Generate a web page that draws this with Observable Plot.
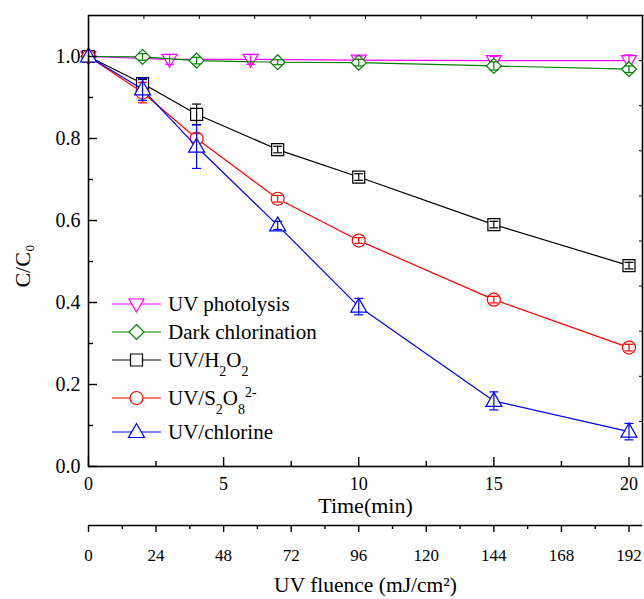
<!DOCTYPE html>
<html><head><meta charset="utf-8">
<script src="https://cdn.jsdelivr.net/npm/d3@7"></script>
<script src="https://cdn.jsdelivr.net/npm/@observablehq/plot@0.6"></script>
<style>
body{margin:0;background:#fff;}
#wrap{position:relative;width:644px;height:599px;font-family:"Liberation Serif","Times New Roman",serif;color:#000;}
#wrap svg{display:block}
.leg{position:absolute;left:112px;height:24px;line-height:24px;font-size:21px;white-space:nowrap;font-family:"Liberation Serif","Times New Roman",serif;}
.leg svg.sym{position:absolute;left:0;top:0;}
.leg span.lab{position:absolute;left:56px;top:0;}
.leg sub{font-size:14px;line-height:0;vertical-align:-9px;}
.leg sup{font-size:14px;line-height:0;vertical-align:8px;}
</style></head><body><div id="wrap"></div>
<script>
// ---- data ----
const photolysisTime = [0, 3, 6, 10, 15, 20];
const photolysisC   = [1.0, 0.993, 0.993, 0.991, 0.99, 0.99];
const photolysisErr = [0, 0.012, 0.012, 0.01, 0.01, 0.014];

const time = [0, 2, 4, 7, 10, 15, 20];
const darkC       = [1.0, 0.999, 0.99, 0.986, 0.985, 0.977, 0.969];
const darkErr     = [0, 0.008, 0.008, 0.006, 0.008, 0.01, 0.008];
const h2o2C       = [1.0, 0.934, 0.859, 0.773, 0.706, 0.59, 0.49];
const h2o2Err     = [0, 0.01, 0.025, 0.008, 0.008, 0.008, 0.008];
const persulfateC = [1.0, 0.912, 0.8, 0.653, 0.551, 0.407, 0.29];
const persulfateErr = [0, 0.025, 0.012, 0.008, 0.007, 0.008, 0.008];
const chlorineC   = [1.0, 0.92, 0.78, 0.588, 0.39, 0.16, 0.085];
const chlorineErr = [0, 0.027, 0.053, 0.01, 0.02, 0.022, 0.02];

const seriesNames = ["UV photolysis", "Dark chlorination", "UV/H<sub>2</sub>O<sub>2</sub>",
  "UV/S<sub>2</sub>O<sub>8</sub><sup>2-</sup>", "UV/chlorine"];
const seriesColors = ["#ff00ff", "#008000", "#000000", "#ff0000", "#0000ff"];

const xMajor = [0, 5, 10, 15, 20];
const xMinor = [2.5, 7.5, 12.5, 17.5];
const yMajor = [0, 0.2, 0.4, 0.6, 0.8, 1.0];
const yMinor = [0.1, 0.3, 0.5, 0.7, 0.9];
const topTicks = [2.05, 4.1, 6.15, 8.2, 10.25, 12.3, 14.35, 16.4, 18.45];
const rightTicks = [0.11, 0.22, 0.33, 0.44, 0.55, 0.66, 0.77, 0.88, 0.99];
const fluenceMajor = [0, 24, 48, 72, 96, 120, 144, 168, 192];
const fluenceMinor = [12, 36, 60, 84, 108, 132, 156, 180];
const fluencePerMin = 9.6; // 192 mJ/cm2 at 20 min

// ---- symbols ----
function sym(drawFn){ return {draw(ctx, size){ const k = Math.sqrt(size/Math.PI)/7; drawFn(ctx,k); }}; }
const triDown = sym((c,k)=>{c.moveTo(-7.5*k,-5*k);c.lineTo(7.5*k,-5*k);c.lineTo(0,8*k);c.closePath();});
const diamond = sym((c,k)=>{c.moveTo(0,-7.5*k);c.lineTo(7.5*k,0);c.lineTo(0,7.5*k);c.lineTo(-7.5*k,0);c.closePath();});
const square  = sym((c,k)=>{c.moveTo(-6*k,-6*k);c.lineTo(6*k,-6*k);c.lineTo(6*k,6*k);c.lineTo(-6*k,6*k);c.closePath();});
const circle  = sym((c,k)=>{c.moveTo(6.5*k,0);c.arc(0,0,6.5*k,0,2*Math.PI);c.closePath();});
const triUp   = sym((c,k)=>{c.moveTo(0,-8.5*k);c.lineTo(8*k,5.5*k);c.lineTo(-8*k,5.5*k);c.closePath();});
const cap     = sym((c,k)=>{c.moveTo(-4.5*k,0);c.lineTo(4.5*k,0);});
const seriesSymbols = [triDown, diamond, square, circle, triUp];

const seriesT = [photolysisTime, time, time, time, time];
const seriesC = [photolysisC, darkC, h2o2C, persulfateC, chlorineC];
const seriesE = [photolysisErr, darkErr, h2o2Err, persulfateErr, chlorineErr];

const font = '"Liberation Serif","Times New Roman",serif';
const marks = [];
seriesC.forEach((vals, s) => {
  const rows = seriesT[s].map((t, i) => ({t, c: vals[i], lo: vals[i] - seriesE[s][i], hi: vals[i] + seriesE[s][i], e: seriesE[s][i]}));
  const col = seriesColors[s];
  marks.push(Plot.line(rows, {x: "t", y: "c", stroke: col, strokeWidth: 1.2}));
  marks.push(Plot.dot(rows, {x: "t", y: "c", r: 7, symbol: seriesSymbols[s], stroke: col, fill: "white", strokeWidth: 1.2}));
  const er = rows.filter(d => d.e > 0);
  marks.push(Plot.ruleX(er, {x: "t", y1: "lo", y2: "hi", stroke: col, strokeWidth: 1.2}));
  marks.push(Plot.dot(er, {x: "t", y: "lo", r: 7, symbol: cap, stroke: col, fill: "none", strokeWidth: 1.2}));
  marks.push(Plot.dot(er, {x: "t", y: "hi", r: 7, symbol: cap, stroke: col, fill: "none", strokeWidth: 1.2}));
});

const chart = Plot.plot({
  width: 644, height: 599,
  marginLeft: 88, marginRight: 2, marginTop: 15, marginBottom: 133,
  x: {domain: [0, 20.5]},
  y: {domain: [0, 1.1]},
  style: {fontFamily: font, background: "white", color: "black"},
  marks: [
    ...marks,
    Plot.frame({stroke: "black", strokeWidth: 1.6}),
    // main x axis (inward ticks)
    Plot.axisX(xMajor, {tickSize: 9, dy: -9, fill: "none", label: null, strokeWidth: 1.4}),
    Plot.axisX(xMinor, {tickSize: 5, dy: -5, fill: "none", label: null, strokeWidth: 1.4}),
    Plot.axisX(xMajor, {tickSize: 0, tickPadding: 11, fontSize: 18, fontFamily: font, label: null, tickFormat: d => String(d)}),
    Plot.axisX(topTicks, {anchor: "top", tickSize: 3, dy: 3, fill: "none", label: null, strokeWidth: 1}),
    // y axis
    Plot.axisY(yMajor, {tickSize: 9, dx: 9, fill: "none", label: null, strokeWidth: 1.4}),
    Plot.axisY(yMinor, {tickSize: 5, dx: 5, fill: "none", label: null, strokeWidth: 1.4}),
    Plot.axisY(yMajor, {tickSize: 0, tickPadding: 8, fontSize: 20, fontFamily: font, label: null, tickFormat: d3.format(".1f")}),
    Plot.axisY(rightTicks, {anchor: "right", tickSize: 4, dx: -4, fill: "none", label: null, strokeWidth: 1}),
    // fluence axis
    Plot.ruleY([0], {dy: 59, stroke: "black", strokeWidth: 1.5}),
    Plot.axisX(fluenceMajor.map(f => f / fluencePerMin), {tickSize: 7, dy: 59, fill: "none", label: null, strokeWidth: 1.4}),
    Plot.axisX(fluenceMinor.map(f => f / fluencePerMin), {tickSize: 4, dy: 59, fill: "none", label: null, strokeWidth: 1.4}),
    Plot.axisX(fluenceMajor.map(f => f / fluencePerMin), {tickSize: 0, tickPadding: 23, dy: 59, fontSize: 17, fontFamily: font, label: null,
      tickFormat: t => String(Math.round(t * fluencePerMin))}),
    // titles
    Plot.text(["Time(min)"], {frameAnchor: "bottom", lineAnchor: "middle", dy: 39, fontSize: 22, fontFamily: font}),
    Plot.text(["UV fluence (mJ/cm²)"], {frameAnchor: "bottom", lineAnchor: "middle", dy: 119, fontSize: 21.5, fontFamily: font}),
    Plot.text(["C/C₀"], {frameAnchor: "left", textAnchor: "middle", lineAnchor: "middle", rotate: -90, dx: -66, dy: 25, fontSize: 22, fontFamily: font})
  ]
});
const wrap = document.getElementById("wrap");
wrap.appendChild(chart);

// legend (inside the plot, lower left)
const legendY = [304, 332, 360, 398, 432];
seriesNames.forEach((name, s) => {
  const row = document.createElement("div");
  row.className = "leg";
  row.style.top = (legendY[s] - 12) + "px";
  const svg = d3.create("svg").attr("class", "sym").attr("width", 52).attr("height", 24);
  svg.append("line").attr("x1", 0).attr("x2", 49).attr("y1", 12).attr("y2", 12)
    .attr("stroke", seriesColors[s]).attr("stroke-width", 1.2);
  const p = d3.path();
  seriesSymbols[s].draw(p, Math.PI * 49);
  svg.append("path").attr("d", p.toString()).attr("transform", "translate(24.5,12)")
    .attr("fill", "white").attr("stroke", seriesColors[s]).attr("stroke-width", 1.2);
  row.appendChild(svg.node());
  const lab = document.createElement("span");
  lab.className = "lab";
  lab.innerHTML = name;
  row.appendChild(lab);
  wrap.appendChild(row);
});
</script>
</body></html>
